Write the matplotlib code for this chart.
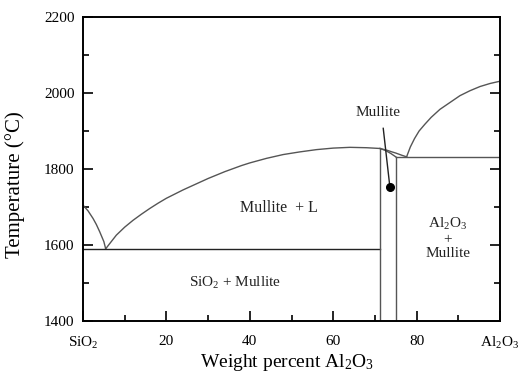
import matplotlib
matplotlib.use("Agg")
import matplotlib.pyplot as plt
from matplotlib.ticker import MultipleLocator

plt.rcParams['font.family'] = ['Liberation Serif', 'DejaVu Serif']
plt.rcParams['mathtext.fontset'] = 'custom'
plt.rcParams['mathtext.rm'] = 'Liberation Serif'
plt.rcParams['mathtext.it'] = 'Liberation Serif:italic'

# Data (wt% Al2O3, temperature in °C)
sio2_liq_x = [0, 1.2, 2.4, 3.2, 4.0, 5.0, 5.44]
sio2_liq_t = [1705, 1690, 1670, 1654, 1635, 1609, 1590]

mull_liq_x = [5.44, 6.5, 8, 10, 12, 14, 16, 18, 20, 22, 24, 26, 28, 30, 32, 34, 36, 38, 40,
              44, 48, 52, 56, 60, 64, 68, 71.2, 73, 74.1, 75, 76.5, 77.6]
mull_liq_t = [1590, 1605, 1626, 1647, 1665, 1681, 1696, 1710, 1723, 1734, 1745, 1755, 1765,
              1775, 1784, 1793, 1801, 1809, 1816, 1828, 1838, 1845, 1851, 1855, 1857, 1856,
              1854, 1849, 1845, 1842, 1836, 1832]

al_liq_x = [77.6, 78.5, 79.5, 80.6, 82, 83.5, 85.6, 88, 90.4, 92.8, 95.2, 97.6, 100]
al_liq_t = [1832, 1858, 1880, 1900, 1918, 1936, 1957, 1975, 1993, 2006, 2017, 2025, 2031]

mull_top_x = [71.2, 72.5, 73.8, 75.0]
mull_top_t = [1854, 1849, 1841, 1832]

eut_low_x = [0, 71.2]
eut_low_t = [1590, 1590]
eut_high_x = [75.0, 100]
eut_high_t = [1832, 1832]

mull_left_x = [71.2, 71.2]
mull_left_t = [1400, 1854]
mull_right_x = [75.0, 75.0]
mull_right_t = [1400, 1832]

mull_point = (73.6, 1752)
pointer_x = [72.0, 73.6]
pointer_t = [1907, 1752]

xticks = [0, 20, 40, 60, 80, 100]
xticklabels = ['SiO$_2$', '20', '40', '60', '80', 'Al$_2$O$_3$']
yticks = [1400, 1600, 1800, 2000, 2200]

fig = plt.figure(figsize=(5.18, 3.77), dpi=100)
ax = fig.add_axes([83/518, 1 - 321/377, 417/518, 304/377])

lc = '#555555'
ax.plot(sio2_liq_x, sio2_liq_t, color=lc, lw=1.0)
ax.plot(mull_liq_x, mull_liq_t, color=lc, lw=1.0)
ax.plot(al_liq_x, al_liq_t, color=lc, lw=1.0)
ax.plot(mull_top_x, mull_top_t, color=lc, lw=1.0)
ax.plot(eut_low_x, eut_low_t, color='#222222', lw=1.0)
ax.plot(eut_high_x, eut_high_t, color=lc, lw=1.0)
ax.plot(mull_left_x, mull_left_t, color=lc, lw=1.0)
ax.plot(mull_right_x, mull_right_t, color=lc, lw=1.0)
ax.plot(pointer_x, pointer_t, color='#222222', lw=1.0)
ax.plot([mull_point[0]], [mull_point[1]], 'o', color='black', ms=5.5)

ax.set_xlim(0, 100)
ax.set_ylim(1400, 2200)
ax.set_xticks(xticks)
ax.set_xticklabels(xticklabels)
ax.set_yticks(yticks)
ax.xaxis.set_minor_locator(MultipleLocator(10))
ax.yaxis.set_minor_locator(MultipleLocator(100))
ax.tick_params(axis='x', which='both', direction='in', top=False, bottom=True, labelsize=11, pad=10)
ax.tick_params(axis='y', which='both', direction='in', left=True, right=True, labelsize=11, pad=6)
ax.tick_params(which='major', length=7.5, width=1.2)
ax.tick_params(which='minor', length=4.5, width=1.2)
for s in ax.spines.values():
    s.set_linewidth(1.4)

ax.set_xlabel('Weight percent Al$_2$O$_3$', fontsize=14)
ax.set_ylabel('Temperature (°C)', fontsize=15)
ax.xaxis.set_label_coords(0.490, -0.102)
ax.yaxis.set_label_coords(-0.140, 0.447)

ax.text(70.8, 1949, 'Mullite', fontsize=11, ha='center', va='center', color='#222222')
ax.text(47, 1697, 'Mullite  + L', fontsize=11.5, ha='center', va='center', color='#222222')
ax.text(36.5, 1500, 'SiO$_2$ + Mullite', fontsize=11, ha='center', va='center', color='#222222')
ax.text(87.5, 1618, 'Al$_2$O$_3$\n+\nMullite', fontsize=11, ha='center', va='center',
        color='#222222', linespacing=1.1)

fig.savefig('out.png', dpi=100)
